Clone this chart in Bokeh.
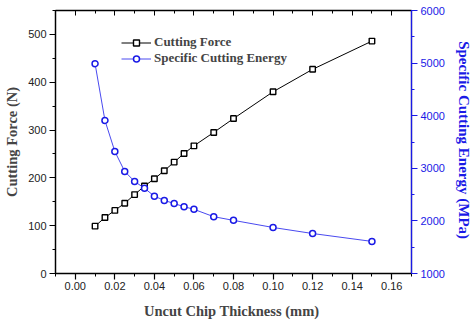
from bokeh.plotting import figure
from bokeh.models import (Range1d, LinearAxis, Legend, LegendItem, Title, SingleIntervalTicker,
                          PrintfTickFormatter, CustomJSTickFormatter)
from bokeh.embed import file_html
from bokeh.resources import INLINE

thickness = [0.01, 0.015, 0.02, 0.025, 0.03, 0.035, 0.04, 0.045, 0.05, 0.055, 0.06, 0.07, 0.08, 0.10, 0.12, 0.15]
cutting_force = [99, 117, 132, 147, 165, 183, 198, 215, 233, 251, 267, 295, 324, 380, 427, 486]
specific_energy = [4990, 3910, 3320, 2940, 2750, 2620, 2470, 2390, 2330, 2270, 2220, 2080, 2010, 1875, 1760, 1610]

BLUE = "#1a1ae6"
LINE_BLUE = "#4a4af0"
SERIF = "Liberation Serif"
SANS = "Liberation Sans"

p = figure(width=474, height=321, x_range=Range1d(-0.01, 0.17), y_range=Range1d(0, 550),
           output_backend="svg", toolbar_location=None,
           min_border_left=55, min_border_right=61, min_border_top=10, min_border_bottom=48)
p.extra_y_ranges = {"e": Range1d(1000, 6000)}
p.grid.visible = False
p.outline_line_color = "black"
p.outline_line_width = 1.2
p.background_fill_color = "white"
p.border_fill_color = "white"

def style_axis(a, color="black", label_color="#222222"):
    a.major_label_text_font = SANS
    a.major_label_text_font_size = "11px"
    a.major_label_text_color = label_color
    a.major_tick_in = 0
    a.major_tick_out = 6
    a.minor_tick_in = 0
    a.minor_tick_out = 3
    a.axis_line_width = 1.3
    a.major_tick_line_width = 1.2
    a.axis_line_color = color
    a.major_tick_line_color = color
    a.minor_tick_line_color = color
    a.axis_label_text_font = SERIF
    a.axis_label_text_font_style = "bold"

# bottom axis
xa = p.xaxis[0]
xa.ticker = SingleIntervalTicker(interval=0.02, num_minor_ticks=2)
xa.formatter = PrintfTickFormatter(format="%.2f")
style_axis(xa)
xa.axis_label = "Uncut Chip Thickness  (mm)"
xa.axis_label_text_font_size = "14.5px"
xa.axis_label_standoff = 10
xa.major_label_standoff = 2

# left axis
ya = p.yaxis[0]
ya.ticker = SingleIntervalTicker(interval=100, num_minor_ticks=2)
style_axis(ya)
ya.axis_label = "Cutting Force (N)"
ya.axis_label_text_font_size = "14.5px"
ya.axis_label_standoff = 5
ya.major_label_standoff = 3

# right axis
ra = LinearAxis(y_range_name="e", ticker=SingleIntervalTicker(interval=1000, num_minor_ticks=2))
style_axis(ra, color=BLUE, label_color=BLUE)
ra.axis_label = "Specific Cutting Energy  (MPa)"
ra.axis_label_text_font_size = "15px"
ra.axis_label_text_color = BLUE
ra.axis_label_standoff = 8
ra.major_label_standoff = 3
p.add_layout(ra, "right")

# top axis (ticks only)
ta = LinearAxis(ticker=SingleIntervalTicker(interval=0.02, num_minor_ticks=2),
                formatter=CustomJSTickFormatter(code="return ''"))
ta.major_label_standoff = 0
ta.major_tick_in = 5
ta.major_tick_out = 0
ta.minor_tick_in = 3
ta.minor_tick_out = 0
ta.axis_line_width = 1.3
p.add_layout(ta, "above")

# series
l1 = p.line(thickness, cutting_force, line_color="black", line_width=1)
m1 = p.scatter(thickness, cutting_force, marker="square", size=5.5, line_color="black",
               line_width=1.4, fill_color="white")
l2 = p.line(thickness, specific_energy, y_range_name="e", line_color=LINE_BLUE, line_width=1)
m2 = p.scatter(thickness, specific_energy, y_range_name="e", marker="circle", size=6,
               line_color=BLUE, line_width=1.5, fill_color="white")

legend = Legend(items=[LegendItem(label="Cutting Force", renderers=[l1, m1]),
                       LegendItem(label="Specific Cutting Energy", renderers=[l2, m2])],
                location=(66, 207))
legend.label_text_font = SERIF
legend.label_text_font_style = "bold"
legend.label_text_font_size = "13px"
legend.border_line_alpha = 0
legend.background_fill_alpha = 0
legend.glyph_width = 30
legend.glyph_height = 15
legend.label_height = 15
legend.spacing = 0
legend.padding = 0
legend.margin = 0
legend.label_standoff = 3
p.add_layout(legend)

panel_tag = Title(text="(b)", align="left", offset=-46, standoff=-54,
                  text_font=SERIF, text_font_style="bold", text_font_size="30px",
                  text_color="black")
p.add_layout(panel_tag, "below")

open("out.html", "w").write(file_html(p, INLINE))
